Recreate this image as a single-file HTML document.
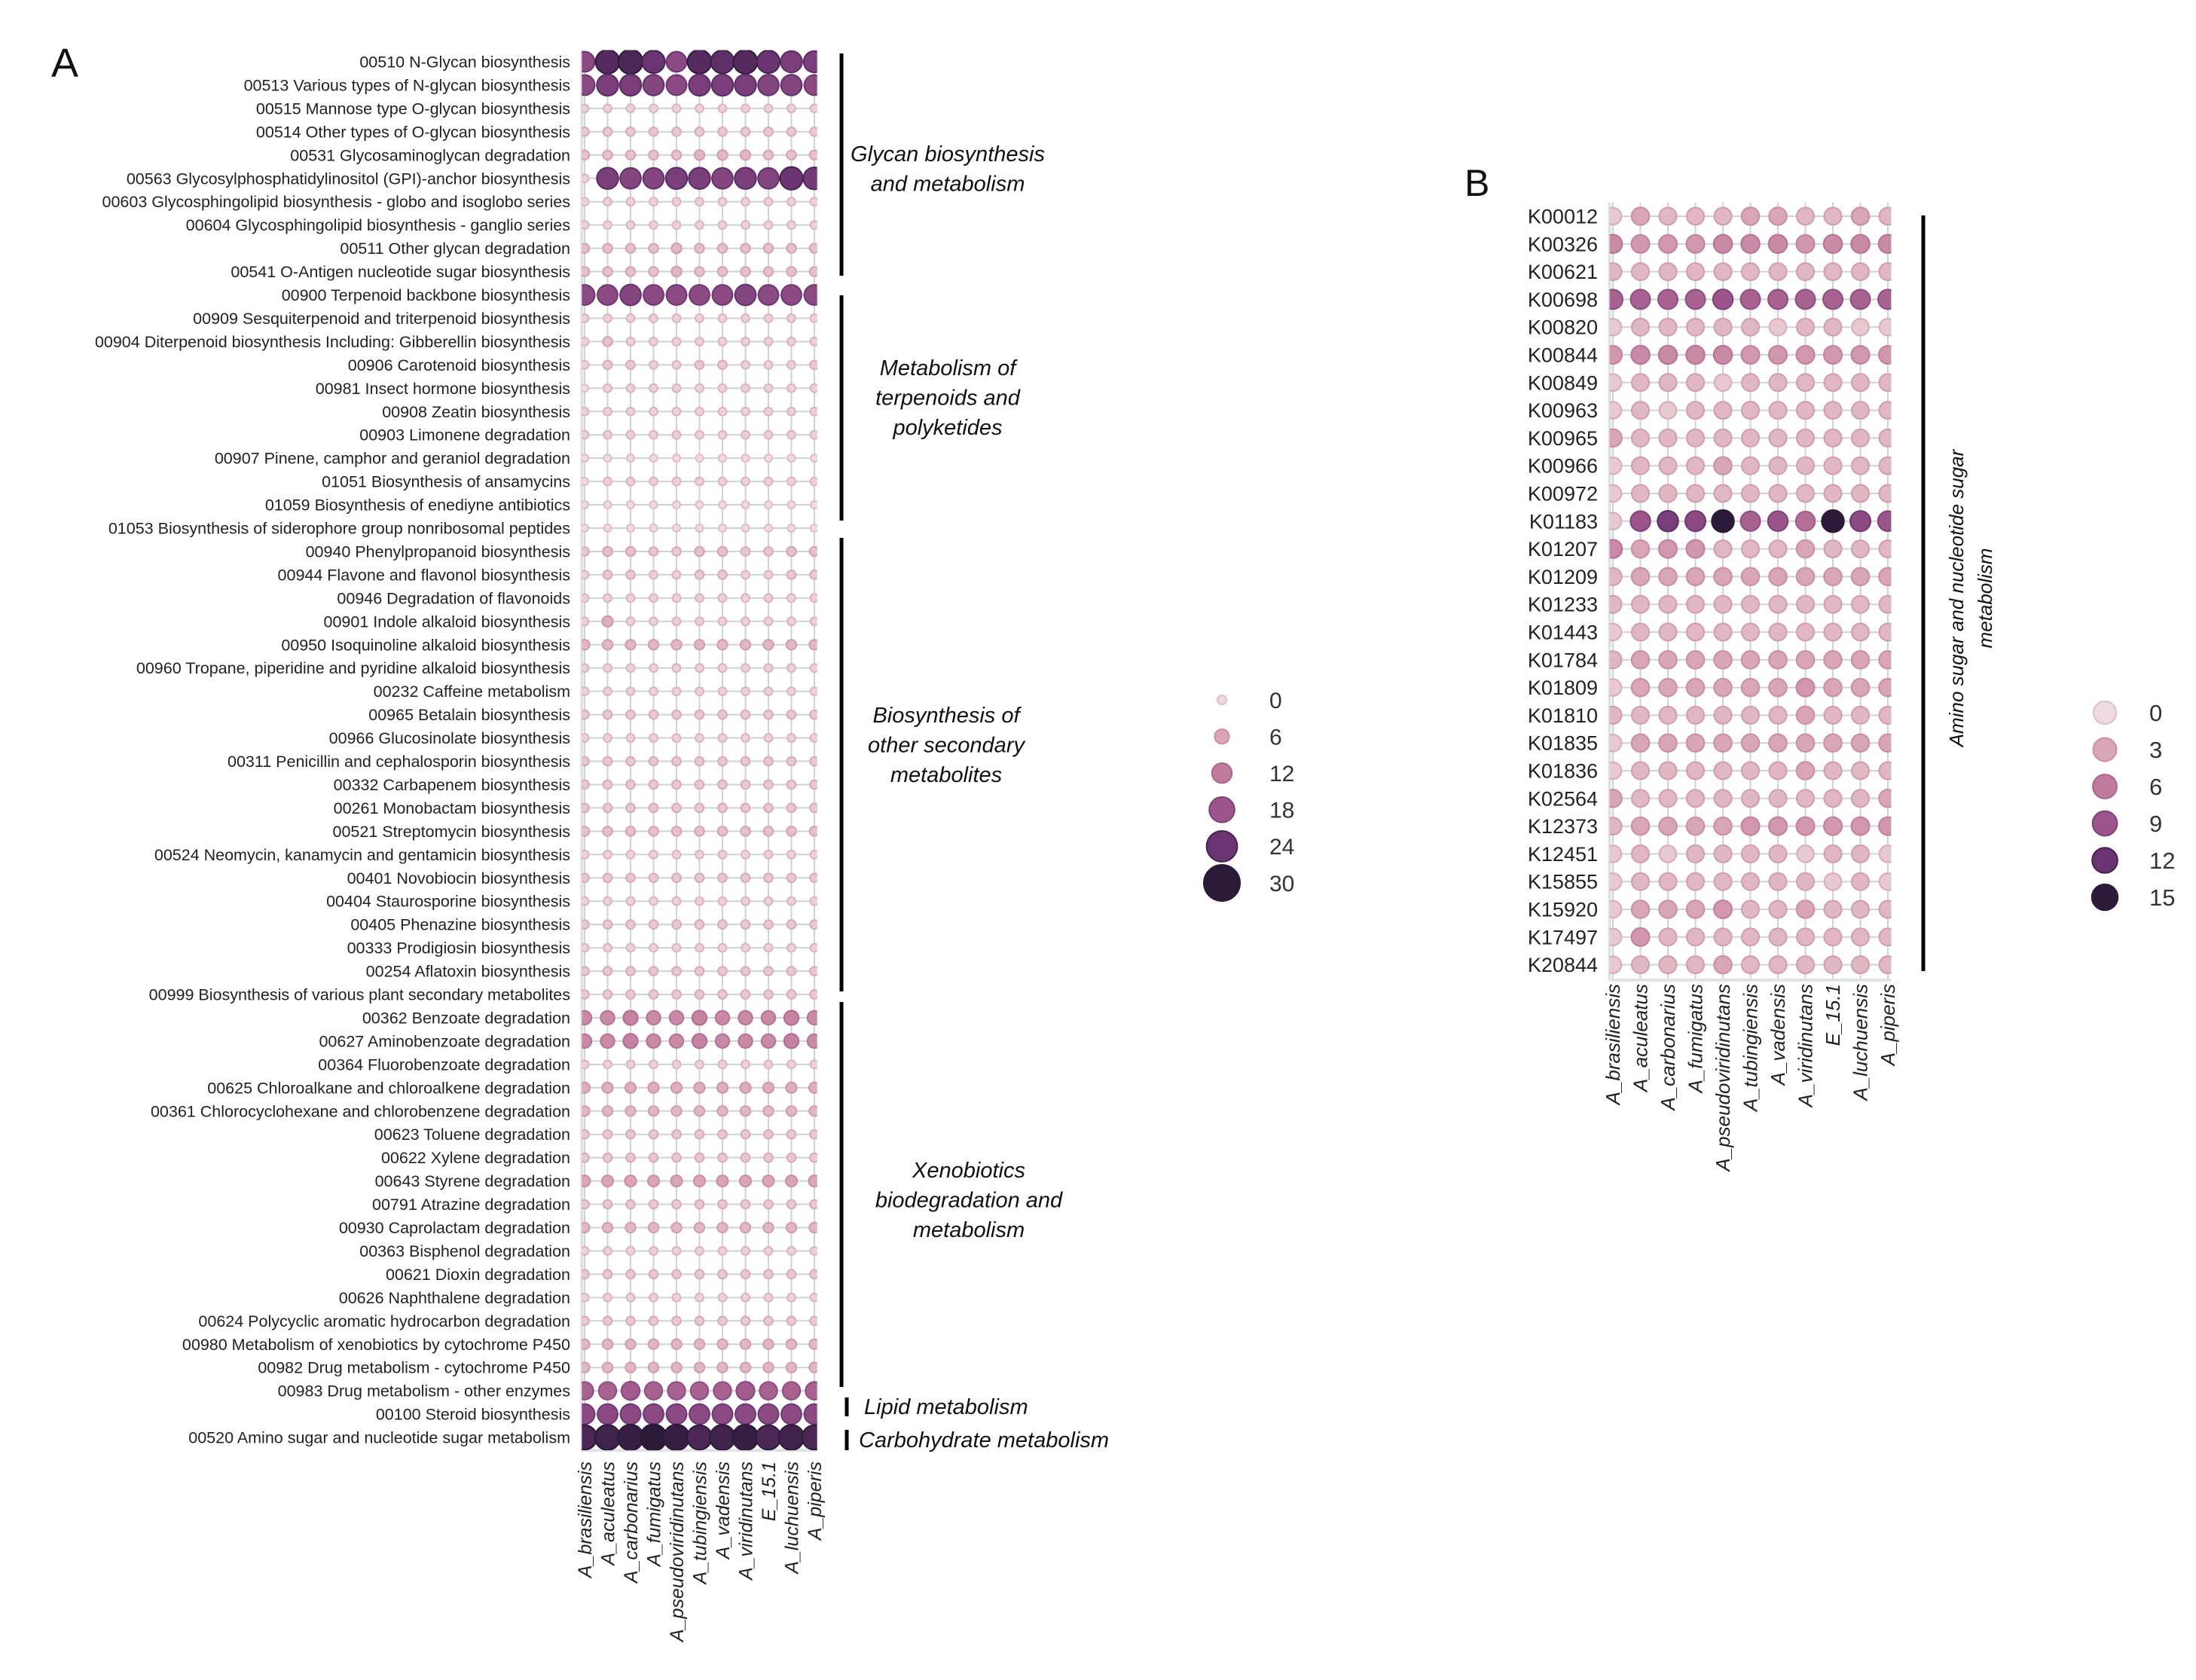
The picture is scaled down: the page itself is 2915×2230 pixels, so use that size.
<!DOCTYPE html>
<html><head><meta charset="utf-8"><style>
html,body{margin:0;padding:0;background:#fff;}
svg{display:block;font-family:"Liberation Sans",sans-serif;}
</style></head><body>
<svg id="chart" width="2915" height="2230" viewBox="0 0 2915 2230" xmlns="http://www.w3.org/2000/svg">
<g id="A"></g>
<g id="B"></g>
</svg>
<script>
const species = ["A_brasiliensis","A_aculeatus","A_carbonarius","A_fumigatus","A_pseudoviridinutans","A_tubingiensis","A_vadensis","A_viridinutans","E_15.1","A_luchuensis","A_piperis"];
const pathwaysA = ["00510 N-Glycan biosynthesis","00513 Various types of N-glycan biosynthesis","00515 Mannose type O-glycan biosynthesis","00514 Other types of O-glycan biosynthesis","00531 Glycosaminoglycan degradation","00563 Glycosylphosphatidylinositol (GPI)-anchor biosynthesis","00603 Glycosphingolipid biosynthesis - globo and isoglobo series","00604 Glycosphingolipid biosynthesis - ganglio series","00511 Other glycan degradation","00541 O-Antigen nucleotide sugar biosynthesis","00900 Terpenoid backbone biosynthesis","00909 Sesquiterpenoid and triterpenoid biosynthesis","00904 Diterpenoid biosynthesis Including: Gibberellin biosynthesis","00906 Carotenoid biosynthesis","00981 Insect hormone biosynthesis","00908 Zeatin biosynthesis","00903 Limonene degradation","00907 Pinene, camphor and geraniol degradation","01051 Biosynthesis of ansamycins","01059 Biosynthesis of enediyne antibiotics","01053 Biosynthesis of siderophore group nonribosomal peptides","00940 Phenylpropanoid biosynthesis","00944 Flavone and flavonol biosynthesis","00946 Degradation of flavonoids","00901 Indole alkaloid biosynthesis","00950 Isoquinoline alkaloid biosynthesis","00960 Tropane, piperidine and pyridine alkaloid biosynthesis","00232 Caffeine metabolism","00965 Betalain biosynthesis","00966 Glucosinolate biosynthesis","00311 Penicillin and cephalosporin biosynthesis","00332 Carbapenem biosynthesis","00261 Monobactam biosynthesis","00521 Streptomycin biosynthesis","00524 Neomycin, kanamycin and gentamicin biosynthesis","00401 Novobiocin biosynthesis","00404 Staurosporine biosynthesis","00405 Phenazine biosynthesis","00333 Prodigiosin biosynthesis","00254 Aflatoxin biosynthesis","00999 Biosynthesis of various plant secondary metabolites","00362 Benzoate degradation","00627 Aminobenzoate degradation","00364 Fluorobenzoate degradation","00625 Chloroalkane and chloroalkene degradation","00361 Chlorocyclohexane and chlorobenzene degradation","00623 Toluene degradation","00622 Xylene degradation","00643 Styrene degradation","00791 Atrazine degradation","00930 Caprolactam degradation","00363 Bisphenol degradation","00621 Dioxin degradation","00626 Naphthalene degradation","00624 Polycyclic aromatic hydrocarbon degradation","00980 Metabolism of xenobiotics by cytochrome P450","00982 Drug metabolism - cytochrome P450","00983 Drug metabolism - other enzymes","00100 Steroid biosynthesis","00520 Amino sugar and nucleotide sugar metabolism"];
const valuesA = [
[20,26,27,24,20,26,25,26,24,22,22],
[20,22,22,21,20,22,22,22,21,21,20],
[1,1,1,1,1,1,1,1,1,1,1],
[2,2,2,2,2,2,2,2,2,2,2],
[3,3,3,3,3,4,4,4,3,3,3],
[1,22,21,21,22,22,21,22,21,24,23],
[1,1,1,1,1,1,1,1,1,1,1],
[1,1,1,1,1,1,1,1,1,1,1],
[3,3,3,3,4,3,3,3,3,3,3],
[3,3,3,3,4,3,3,3,3,3,3],
[20,20,21,20,20,20,20,21,20,20,20],
[1,1,1,1,1,1,1,1,1,1,1],
[1,3,1,1,1,1,1,1,1,1,1],
[1,2,2,1,1,2,2,1,1,1,2],
[0,1,1,1,1,1,1,1,1,1,1],
[1,1,1,1,1,1,1,1,1,1,1],
[1,1,1,1,1,1,1,1,1,1,1],
[0,0,0,0,0,0,0,0,0,0,0],
[0,1,1,1,1,1,1,1,1,1,1],
[0,0,0,0,0,0,0,0,0,0,0],
[0,0,0,0,0,0,0,0,0,0,0],
[2,3,3,2,2,3,3,2,2,3,3],
[1,2,2,1,1,2,2,1,1,2,2],
[1,1,1,1,1,1,1,1,1,1,1],
[1,5,1,1,1,1,1,1,1,1,1],
[4,4,4,4,4,4,4,4,4,4,4],
[1,1,1,1,1,1,1,1,1,1,1],
[1,1,1,1,1,1,1,1,1,1,1],
[2,2,2,2,2,2,2,2,2,2,2],
[1,1,1,1,1,1,1,1,1,1,1],
[2,2,2,2,2,2,2,2,2,2,2],
[2,2,2,2,2,2,2,2,2,2,2],
[2,2,2,2,2,2,2,2,2,2,2],
[3,3,3,3,3,3,3,3,3,3,3],
[1,1,1,1,1,1,1,1,1,1,1],
[2,2,2,2,2,2,2,2,2,2,2],
[1,1,1,1,1,1,1,1,1,1,1],
[2,2,2,2,2,2,2,2,2,2,2],
[1,1,1,1,1,1,1,1,1,1,1],
[2,2,2,2,2,2,2,2,2,2,2],
[2,2,2,2,2,2,2,2,2,2,2],
[10,10,11,10,10,11,10,10,10,11,10],
[10,10,11,10,10,11,10,10,10,11,10],
[1,1,1,1,1,1,1,1,1,1,1],
[5,5,5,5,5,5,5,5,5,5,5],
[4,4,4,4,4,4,4,4,4,4,4],
[2,2,2,2,2,2,2,2,2,2,2],
[2,2,2,2,2,2,2,2,2,2,2],
[6,6,6,6,6,6,6,6,6,6,6],
[2,2,2,2,2,2,2,2,2,2,2],
[4,4,4,4,4,4,4,4,4,4,4],
[1,1,1,1,1,1,1,1,1,1,1],
[2,2,2,2,2,2,2,2,2,2,2],
[1,1,1,1,1,1,1,1,1,1,1],
[2,2,2,2,2,2,2,2,2,2,2],
[4,4,4,4,4,4,4,4,4,4,4],
[4,4,4,4,4,4,4,4,4,4,4],
[16,16,17,16,16,16,16,17,16,16,16],
[20,20,20,20,20,20,20,20,20,20,20],
[27,28,29,30,29,27,28,29,27,28,27]
];
const legendA = [0,6,12,18,24,30];
const genesB = ["K00012","K00326","K00621","K00698","K00820","K00844","K00849","K00963","K00965","K00966","K00972","K01183","K01207","K01209","K01233","K01443","K01784","K01809","K01810","K01835","K01836","K02564","K12373","K12451","K15855","K15920","K17497","K20844"];
const valuesB = [
[1,3,2,2,2,3,3,2,2,3,2],
[5,4,4,4,5,5,5,4,5,5,5],
[2,2,2,2,2,2,2,2,2,2,2],
[8,8,8,8,9,8,8,8,8,8,8],
[1,2,2,2,2,2,1,2,2,1,1],
[4,5,5,5,5,4,4,4,4,4,4],
[1,2,2,2,1,2,2,2,2,2,2],
[1,2,1,2,2,2,2,2,2,2,2],
[3,2,2,2,2,2,2,2,2,2,2],
[1,2,2,2,3,2,2,2,2,2,2],
[1,2,2,2,2,2,2,2,2,2,2],
[1,9,11,10,15,8,9,7,15,10,9],
[5,3,4,4,2,2,2,3,2,2,2],
[2,3,3,3,3,3,3,3,3,3,3],
[2,2,2,2,2,2,2,2,2,2,2],
[1,2,2,2,2,2,2,2,2,2,2],
[2,3,3,3,3,3,3,3,3,3,3],
[1,3,3,3,3,3,3,4,3,3,3],
[2,2,2,2,2,2,2,3,2,2,2],
[1,3,3,3,3,3,3,3,3,3,3],
[1,2,2,2,2,2,2,3,2,2,2],
[3,2,2,2,2,2,2,2,2,2,3],
[2,3,3,3,3,4,4,4,4,4,4],
[1,2,1,2,2,2,2,1,2,2,1],
[1,2,2,2,2,2,2,2,1,2,1],
[1,3,3,3,4,2,2,3,2,2,2],
[1,4,2,2,2,2,2,2,2,2,2],
[1,2,2,2,3,2,2,2,2,2,2]
];
const legendB = [0,3,6,9,12,15];

const NS = "http://www.w3.org/2000/svg";
function mk(parent, tag, attrs, text){
  const e = document.createElementNS(NS, tag);
  for (const k in attrs) e.setAttribute(k, attrs[k]);
  if (text !== undefined) e.textContent = text;
  parent.appendChild(e);
  return e;
}
function hex(h){return [parseInt(h.slice(1,3),16),parseInt(h.slice(3,5),16),parseInt(h.slice(5,7),16)];}
function ramp(stops, t){
  t = Math.max(0, Math.min(1, t));
  const n = stops.length - 1, i = Math.min(n - 1, Math.floor(t * n)), f = t * n - i;
  const a = hex(stops[i]), b = hex(stops[i + 1]);
  return "rgb(" + a.map((v, k) => Math.round(v + (b[k] - v) * f)).join(",") + ")";
}
const stops = ["#eedbe0","#d9a6b6","#c17c9c","#9b558a","#6a3472","#2b1a38"];

function panel(g, cfg){
  const xs = i => cfg.x0 + i * cfg.dx;
  const ys = j => cfg.y0 + j * cfg.dy;
  const nR = cfg.rows.length, nC = species.length;
  const left = xs(0) - cfg.dx * 0.12, right = xs(nC - 1) + cfg.dx * 0.12;
  const top = ys(0) - cfg.dy * 0.5, bottom = ys(nR - 1) + cfg.dy * 0.55;
  const grid = mk(g, "g", {});
  
  
  for (let i = 0; i < nC; i++) mk(grid, "line", {x1: xs(i), x2: xs(i), y1: top, y2: bottom, stroke: "#cfd3d3", "stroke-width": 2});
  for (let j = 0; j < nR; j++) mk(grid, "line", {x1: left, x2: right, y1: ys(j), y2: ys(j), stroke: "#cfd3d3", "stroke-width": 2});
  mk(grid, "line", {x1: left, x2: left, y1: top, y2: bottom, stroke: "#dfe3e3", "stroke-width": 4});
  mk(grid, "line", {x1: left, x2: right, y1: bottom, y2: bottom, stroke: "#dfe3e3", "stroke-width": 4});
  const clipId = "clip" + cfg.id;
  const defs = mk(g, "defs", {});
  const cp = mk(defs, "clipPath", {id: clipId});
  mk(cp, "rect", {x: left, y: top, width: right - left, height: bottom - top});
  const dots = mk(g, "g", {"clip-path": "url(#" + clipId + ")"});
  
  
  for (let j = 0; j < nR; j++) {
    const rowLab = mk(g, "text", {x: cfg.labX, y: ys(j) + cfg.labFs * 0.35, "text-anchor": "end", "font-size": cfg.labFs, fill: "#222"}, cfg.rows[j]);
    
    
    for (let i = 0; i < nC; i++) {
      const v = cfg.vals[j][i];
      const c = mk(dots, "circle", {cx: xs(i), cy: ys(j), r: cfg.rad(v), fill: ramp(stops, v / cfg.vmax), stroke: ramp(stops, v / cfg.vmax + 0.12), "stroke-width": 2});
      
      
    }
  }
  for (let i = 0; i < nC; i++) {
    const t = mk(g, "text", {transform: "translate(" + (xs(i) + cfg.colFs * 0.35) + "," + cfg.colY + ") rotate(-90)", "text-anchor": "end", "font-size": cfg.colFs, "font-style": "italic", fill: "#222"}, species[i]);
    
    
  }
  cfg.legend.forEach((v, k) => {
    const y = cfg.legY0 + k * cfg.legDy;
    const c = mk(g, "circle", {cx: cfg.legX, cy: y, r: cfg.legR(v), fill: ramp(stops, v / cfg.vmax), stroke: ramp(stops, v / cfg.vmax + 0.12), "stroke-width": 2});
    
    
    const t = mk(g, "text", {x: cfg.legTX, y: y + cfg.legFs * 0.36, "font-size": cfg.legFs, fill: "#333"}, v);
    
    
  });
}

const gA = document.getElementById("A");
panel(gA, {id: "A", rows: pathwaysA, vals: valuesA, vmax: 30, x0: 776, dx: 30.5, y0: 82, dy: 30.95, labX: 757, labFs: 21.5,
  rad: v => 5 + v * 0.42, colY: 1940, colFs: 25,
  legend: legendA, legX: 1622, legY0: 929, legDy: 48.6, legR: v => 6 + v * 0.6, legTX: 1685, legFs: 30});
const gB = document.getElementById("B");
panel(gB, {id: "B", rows: genesB, vals: valuesB, vmax: 15, x0: 2141, dx: 36.5, y0: 287, dy: 36.8, labX: 2121, labFs: 27,
  rad: v => 11 + v * 0.25, colY: 1306, colFs: 26,
  legend: legendB, legX: 2794, legY0: 946, legDy: 49, legR: v => 15 + v * 0.15, legTX: 2853, legFs: 31});

// panel letters
let t = mk(gA, "text", {x: 68, y: 102, "font-size": 54, fill: "#111"}, "A");


t = mk(gB, "text", {x: 1944, y: 260, "font-size": 50, fill: "#111"}, "B");



// brackets A
const groupsA = [
  {y1: 71, y2: 366, x: 1117, lines: ["Glycan biosynthesis","and metabolism"], ty: 204, tx: 1258, anchor: "middle"},
  {y1: 392, y2: 691, x: 1117, lines: ["Metabolism of","terpenoids and","polyketides"], ty: 488, tx: 1258, anchor: "middle"},
  {y1: 714, y2: 1316, x: 1117, lines: ["Biosynthesis of","other secondary","metabolites"], ty: 949, tx: 1256, anchor: "middle"},
  {y1: 1330, y2: 1841, x: 1117, lines: ["Xenobiotics","biodegradation and","metabolism"], ty: 1553, tx: 1286, anchor: "middle"},
  {y1: 1855, y2: 1880, x: 1124, lines: ["Lipid metabolism"], ty: 1867, tx: 1147, anchor: "start"},
  {y1: 1898, y2: 1925, x: 1124, lines: ["Carbohydrate metabolism"], ty: 1911, tx: 1140, anchor: "start"}
];
groupsA.forEach(gr => {
  const l = mk(gA, "line", {x1: gr.x, x2: gr.x, y1: gr.y1, y2: gr.y2, stroke: "#000", "stroke-width": 5});
  
  
  gr.lines.forEach((s, k) => {
    const tt = mk(gA, "text", {x: gr.tx, y: gr.ty + k * 39.5 + 10, "text-anchor": gr.anchor, "font-size": 29, "font-style": "italic", fill: "#111"}, s);
    
    
  });
});
// bracket B
const lb = mk(gB, "line", {x1: 2553, x2: 2553, y1: 286, y2: 1289, stroke: "#000", "stroke-width": 5});


["Amino sugar and nucleotide sugar","metabolism"].forEach((s, k) => {
  const tt = mk(gB, "text", {transform: "translate(" + (2606 + k * 38) + ",794) rotate(-90)", "text-anchor": "middle", "font-size": 26, "font-style": "italic", fill: "#111"}, s);
  
  
});
</script>
</body></html>
